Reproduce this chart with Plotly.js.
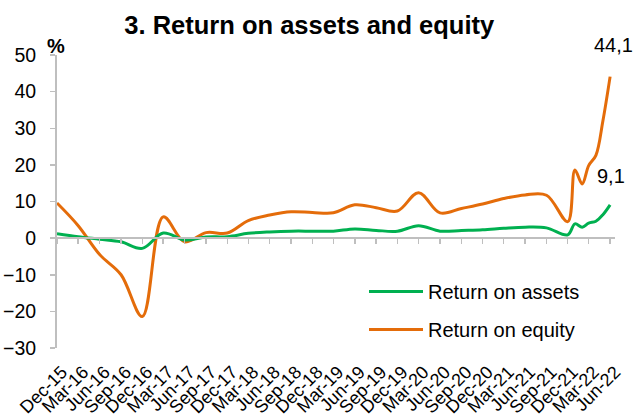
<!DOCTYPE html>
<html>
<head>
<meta charset="utf-8">
<script src="https://cdn.plot.ly/plotly-3.0.1.min.js"></script>
<style>
  html, body { margin: 0; padding: 0; background: #fff; }
  #chart { width: 639px; height: 418px; }
</style>
</head>
<body>
<div id="chart"></div>
<script>
// Period dates (quarterly to Dec-21, then monthly in 2022)
const dates = [
  '2015-12-01','2016-03-01','2016-06-01','2016-09-01','2016-12-01',
  '2017-03-01','2017-06-01','2017-09-01','2017-12-01',
  '2018-03-01','2018-06-01','2018-09-01','2018-12-01',
  '2019-03-01','2019-06-01','2019-09-01','2019-12-01',
  '2020-03-01','2020-06-01','2020-09-01','2020-12-01',
  '2021-03-01','2021-06-01','2021-09-01','2021-12-01',
  '2022-01-01','2022-02-01','2022-03-01','2022-04-01','2022-05-01','2022-06-01'
];

// Return on assets, %
const roa = [
  1.2, 0.4, -0.3, -1.0, -2.8,
  1.4, -0.5, 0.3, 0.4,
  1.3, 1.7, 1.9, 1.9,
  1.9, 2.5, 2.1, 1.9,
  3.4, 1.9, 2.1, 2.3,
  2.7, 3.0, 2.8, 0.9,
  3.9, 3.0, 4.1, 4.6, 6.4, 9.1
];

// Return on equity, %
const roe = [
  9.6, 3.4, -4.5, -10.0, -21.4,
  5.8, -1.0, 1.5, 1.4,
  4.8, 6.3, 7.2, 7.0,
  6.9, 9.1, 8.3, 7.4,
  12.4, 6.9, 8.1, 9.3,
  10.8, 11.8, 11.7, 4.5,
  18.6, 14.8, 19.8, 22.6, 32.0, 44.1
];

const seriesNames = ['Return on assets', 'Return on equity'];
const titleText = '3. Return on assets and equity';
const unitLabel = '%';

const GREEN = '#00B050';
const ORANGE = '#E46C0A';
const AXIS = '#BFBFBF';
const FONT = 'Liberation Sans, Arial, sans-serif';

const fmt = v => String(v).replace('.', ',');
const lastIdx = dates.length - 1;

const traces = [
  {
    x: dates, y: roa, name: seriesNames[0], type: 'scatter', mode: 'lines',
    line: { color: GREEN, width: 3, shape: 'spline', smoothing: 1 },
    xaxis: 'x2', yaxis: 'y', legendgroup: 'a', hoverinfo: 'skip'
  },
  {
    x: dates, y: roe, name: seriesNames[1], type: 'scatter', mode: 'lines',
    line: { color: ORANGE, width: 3, shape: 'spline', smoothing: 1 },
    xaxis: 'x', yaxis: 'y', legendgroup: 'b', hoverinfo: 'skip'
  }
];

const xRange = ['2015-12-01', '2022-06-22'];

const layout = {
  width: 639, height: 418,
  margin: { l: 57, r: 24, t: 55, b: 70 },
  paper_bgcolor: '#fff', plot_bgcolor: '#fff',
  font: { family: FONT, color: '#000', size: 19 },
  separators: ',.',
  title: {
    text: titleText,
    font: { family: FONT, size: 25.5, weight: 'bold', color: '#000' },
    x: 0.484, xref: 'container', xanchor: 'center',
    y: 1 - 25 / 418, yref: 'container', yanchor: 'middle'
  },
  showlegend: true,
  legend: {
    x: (364 - 57) / 558, xanchor: 'left',
    y: (348 - 272) / 293, yanchor: 'top',
    font: { family: FONT, size: 20, color: '#000' },
    bgcolor: 'rgba(0,0,0,0)',
    traceorder: 'grouped', tracegroupgap: 9,
    itemwidth: 54
  },
  xaxis: {
    type: 'date', range: xRange,
    tick0: '2015-12-01', dtick: 'M3', tickformat: '%b-%y',
    tickangle: -45, tickfont: { family: FONT, size: 18, color: '#000' },
    ticklabelstandoff: 9, ticklabelshift: 5,
    showline: false, showgrid: false, zeroline: false, ticks: '',
    anchor: 'y', side: 'bottom'
  },
  xaxis2: {
    type: 'date', range: xRange, overlaying: 'x',
    tick0: '2015-12-01', dtick: 'M3',
    showticklabels: false, showgrid: false, zeroline: false,
    showline: true, linecolor: AXIS, linewidth: 2,
    ticks: 'outside', ticklen: 5, tickcolor: AXIS, tickwidth: 1.5,
    anchor: 'free', position: 30 / 80, side: 'bottom'
  },
  yaxis: {
    range: [-30, 50], dtick: 10, tick0: 0,
    showline: true, linecolor: AXIS, linewidth: 2,
    ticks: 'outside', ticklen: 5, tickcolor: AXIS, tickwidth: 1.5,
    showgrid: false, zeroline: false,
    tickfont: { family: FONT, size: 19.5, color: '#000' },
    ticklabelstandoff: 10
  },
  annotations: [
    {
      xref: 'paper', yref: 'paper', x: (45 - 57) / 558, y: 1 + (55 - 45.5) / 293,
      xanchor: 'left', yanchor: 'middle', showarrow: false,
      text: '<b>' + unitLabel + '</b>', font: { family: FONT, size: 20, color: '#000' }
    },
    {
      xref: 'x', yref: 'y', x: dates[lastIdx], y: roe[lastIdx],
      xanchor: 'center', yanchor: 'middle', showarrow: false,
      xshift: 3, yshift: 32,
      text: fmt(roe[lastIdx]), font: { family: FONT, size: 20, color: '#000' }
    },
    {
      xref: 'x', yref: 'y', x: dates[lastIdx], y: roa[lastIdx],
      xanchor: 'center', yanchor: 'middle', showarrow: false,
      xshift: 1, yshift: 29,
      text: fmt(roa[lastIdx]), font: { family: FONT, size: 20, color: '#000' }
    }
  ]
};

Plotly.newPlot('chart', traces, layout, { staticPlot: true, displayModeBar: false });
</script>
</body>
</html>
